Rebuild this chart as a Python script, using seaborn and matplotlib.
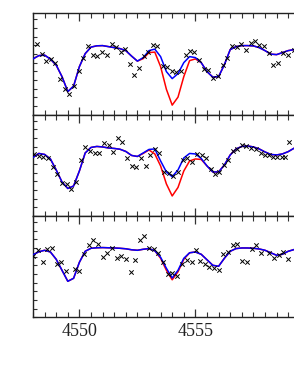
import numpy as np
import pandas as pd
import matplotlib
matplotlib.use("Agg")
import matplotlib.pyplot as plt
from matplotlib.ticker import MultipleLocator, FixedLocator, NullFormatter, FixedFormatter
import seaborn as sns

# wavelength grid of the model curves (Angstrom)
wave_model = np.arange(4548.0, 4560.001, 0.25)

# ---- panel 1 ----
p1_blue = [0.867, 0.90, 0.905, 0.865, 0.805, 0.69, 0.54, 0.595, 0.79, 0.92,
           0.985, 0.998, 1.00, 0.99, 0.98, 0.97, 0.95, 0.895, 0.845, 0.88,
           0.95, 0.965, 0.89, 0.74, 0.67, 0.72, 0.83, 0.89, 0.88, 0.83,
           0.74, 0.685, 0.69, 0.81, 0.96, 0.99, 1.00, 1.00, 0.997, 0.98,
           0.95, 0.915, 0.91, 0.93, 0.95, 0.96, 0.96, 0.95, 0.94]
p1_red = [0.867, 0.90, 0.905, 0.865, 0.805, 0.69, 0.54, 0.595, 0.79, 0.92,
          0.985, 0.998, 1.00, 0.99, 0.98, 0.97, 0.95, 0.895, 0.845, 0.87,
          0.93, 0.935, 0.79, 0.563, 0.405, 0.485, 0.69, 0.85, 0.867, 0.83,
          0.74, 0.685, 0.69, 0.81, 0.96, 0.99, 1.00, 1.00, 0.997, 0.98,
          0.95, 0.915, 0.91, 0.93, 0.95, 0.96, 0.96, 0.95, 0.94]
p1_obs_w = [4548.16, 4548.375, 4548.56, 4548.76, 4548.95, 4549.16, 4549.38, 4549.55,
            4549.77, 4549.97, 4550.17, 4550.37, 4550.57, 4550.75, 4550.96, 4551.18,
            4551.39, 4551.58, 4551.78, 4551.98, 4552.18, 4552.37, 4552.57, 4552.78,
            4552.97, 4553.19, 4553.36, 4553.59, 4553.76, 4553.98, 4554.16, 4554.37,
            4554.58, 4554.77, 4554.95, 4555.17, 4555.38, 4555.56, 4555.77, 4555.96,
            4556.18, 4556.37, 4556.59, 4556.78, 4556.97, 4557.18, 4557.38, 4557.57,
            4557.75, 4557.96, 4558.17, 4558.36, 4558.55, 4558.79, 4558.98, 4559.25]
p1_obs_f = [1.017, 0.92, 0.847, 0.87, 0.827, 0.67, 0.567, 0.517,
            0.60, 0.743, 0.88, 1.00, 0.907, 0.90, 0.933, 0.903,
            1.02, 0.987, 0.937, 0.963, 0.82, 0.707, 0.78, 0.893,
            0.937, 1.003, 0.993, 0.793, 0.783, 0.743, 0.733, 0.75,
            0.91, 0.95, 0.937, 0.86, 0.77, 0.753, 0.677, 0.693,
            0.81, 0.877, 0.993, 0.987, 1.02, 0.96, 1.027, 1.043,
            1.01, 0.993, 0.927, 0.81, 0.827, 0.927, 0.91, 0.96]

# ---- panel 2 ----
p2_blue = [0.895, 0.935, 0.925, 0.88, 0.77, 0.65, 0.585, 0.61, 0.76, 0.94,
           0.995, 1.005, 1.00, 0.99, 0.985, 0.977, 0.955, 0.915, 0.905, 0.94,
           0.975, 0.98, 0.86, 0.75, 0.703, 0.77, 0.89, 0.935, 0.93, 0.885,
           0.81, 0.75, 0.75, 0.82, 0.92, 0.98, 1.005, 1.01, 1.00, 0.98,
           0.95, 0.925, 0.92, 0.93, 0.953, 0.987, 1.00, 1.00, 0.99]
p2_red = [0.895, 0.935, 0.925, 0.88, 0.77, 0.65, 0.585, 0.61, 0.76, 0.94,
          0.995, 1.005, 1.00, 0.99, 0.985, 0.977, 0.955, 0.915, 0.905, 0.935,
          0.97, 0.93, 0.81, 0.63, 0.51, 0.595, 0.76, 0.86, 0.88, 0.875,
          0.81, 0.75, 0.75, 0.82, 0.92, 0.98, 1.005, 1.01, 1.00, 0.98,
          0.95, 0.925, 0.92, 0.93, 0.953, 0.987, 1.00, 1.00, 0.99]
p2_obs_w = [4548.06, 4548.26, 4548.44, 4548.66, 4548.85, 4549.05, 4549.25, 4549.45,
            4549.64, 4549.85, 4550.06, 4550.25, 4550.46, 4550.67, 4550.86, 4551.06,
            4551.26, 4551.46, 4551.65, 4551.85, 4552.04, 4552.25, 4552.44, 4552.66,
            4552.86, 4553.04, 4553.26, 4553.44, 4553.66, 4553.86, 4554.05, 4554.25,
            4554.45, 4554.65, 4554.84, 4555.06, 4555.27, 4555.46, 4555.66, 4555.84,
            4556.03, 4556.23, 4556.42, 4556.63, 4556.81, 4557.0, 4557.18, 4557.38,
            4557.61, 4557.81, 4558.0, 4558.19, 4558.36, 4558.53, 4558.72, 4558.86,
            4559.05]
p2_obs_f = [0.927, 0.913, 0.90, 0.893, 0.797, 0.727, 0.637, 0.63,
            0.583, 0.653, 0.87, 0.997, 0.963, 0.937, 0.937, 1.037,
            1.023, 0.95, 1.087, 1.047, 0.893, 0.81, 0.797, 0.887,
            0.81, 0.92, 0.977, 0.943, 0.753, 0.737, 0.71, 0.75,
            0.87, 0.887, 0.853, 0.927, 0.92, 0.887, 0.777, 0.727,
            0.753, 0.82, 0.87, 0.963, 0.977, 1.02, 1.01, 0.993,
            0.977, 0.937, 0.92, 0.92, 0.897, 0.897, 0.903, 0.903,
            1.053]

# ---- panel 3 ----
p3_blue = [0.935, 0.965, 0.98, 0.963, 0.89, 0.78, 0.67, 0.70, 0.86, 0.97,
           1.00, 1.005, 1.007, 1.005, 1.003, 1.00, 0.995, 0.985, 0.98, 0.99,
           0.997, 0.975, 0.91, 0.80, 0.703, 0.78, 0.90, 0.955, 0.963, 0.94,
           0.885, 0.83, 0.82, 0.90, 0.97, 0.997, 1.003, 1.003, 1.00, 0.993,
           0.98, 0.955, 0.93, 0.94, 0.97, 0.987, 0.995, 0.995, 0.99]
p3_red = [0.935, 0.965, 0.98, 0.963, 0.89, 0.78, 0.67, 0.70, 0.86, 0.97,
          1.00, 1.005, 1.007, 1.005, 1.003, 1.00, 0.995, 0.985, 0.98, 0.99,
          0.997, 0.975, 0.90, 0.78, 0.685, 0.765, 0.89, 0.955, 0.963, 0.94,
          0.885, 0.83, 0.82, 0.90, 0.97, 0.997, 1.003, 1.003, 1.00, 0.993,
          0.98, 0.955, 0.93, 0.94, 0.97, 0.987, 0.995, 0.995, 0.99]
p3_obs_w = [4548.01, 4548.23, 4548.42, 4548.62, 4548.81, 4549.02, 4549.21, 4549.42,
            4549.81, 4550.0, 4550.21, 4550.41, 4550.6, 4550.79, 4551.0, 4551.2,
            4551.41, 4551.61, 4551.79, 4552.0, 4552.21, 4552.4, 4552.61, 4552.8,
            4553.01, 4553.22, 4553.4, 4553.62, 4553.83, 4554.0, 4554.19, 4554.41,
            4554.63, 4554.84, 4555.01, 4555.2, 4555.41, 4555.6, 4555.8, 4556.02,
            4556.2, 4556.41, 4556.61, 4556.81, 4557.0, 4557.21, 4557.43, 4557.61,
            4557.81, 4558.19, 4558.39, 4558.59, 4558.79, 4559.0]
p3_obs_f = [0.923, 0.987, 0.863, 0.99, 1.003, 0.847, 0.863, 0.773,
            0.797, 0.77, 0.947, 1.037, 1.087, 1.043, 0.913, 0.953,
            1.003, 0.907, 0.923, 0.893, 0.763, 0.887, 1.087, 1.123,
            1.003, 0.997, 0.953, 0.863, 0.747, 0.753, 0.72, 0.84,
            0.88, 0.863, 0.987, 0.873, 0.847, 0.813, 0.807, 0.78,
            0.94, 0.963, 1.037, 1.047, 0.87, 0.863, 0.997, 1.037,
            0.953, 0.953, 0.903, 0.93, 0.963, 0.897]

x_tick_labels = ["4550", "4555", "4560"]

panels = [
    (p1_blue, p1_red, p1_obs_w, p1_obs_f),
    (p2_blue, p2_red, p2_obs_w, p2_obs_f),
    (p3_blue, p3_red, p3_obs_w, p3_obs_f),
]

sns.set_style("ticks")
plt.rcParams["font.family"] = ["Liberation Serif", "DejaVu Serif"]

fig, axes = plt.subplots(3, 1, figsize=(2.94, 3.75), dpi=100, sharex=True)
fig.subplots_adjust(left=33 / 294, right=311.4 / 294, top=1 - 13.3 / 375,
                    bottom=1 - 317.3 / 375, hspace=0)

ylo, yhi = 0.31, 1.323
for i, (ax, (blue, red, ow, of)) in enumerate(zip(axes, panels)):
    dfm = pd.DataFrame({"w": wave_model, "blue": blue, "red": red})
    dfo = pd.DataFrame({"w": ow, "f": of})
    sns.lineplot(data=dfm, x="w", y="red", ax=ax, color="#ff0000", lw=1.1,
                 sort=False, estimator=None, zorder=2)
    sns.lineplot(data=dfm, x="w", y="blue", ax=ax, color="#0000ff", lw=1.1,
                 sort=False, estimator=None, zorder=3)
    sns.scatterplot(data=dfo, x="w", y="f", ax=ax, marker="x", color="black",
                    s=10, linewidth=0.7, zorder=4)
    ax.set_xlim(4548, 4560)
    ax.set_ylim(ylo, yhi)
    ax.set_xlabel("")
    ax.set_ylabel("")
    for sp in ax.spines.values():
        sp.set_visible(True)
        sp.set_linewidth(1.0)
        sp.set_color("#222222")
    ax.yaxis.set_major_locator(FixedLocator(list(np.arange(ylo, yhi, 0.0867))))
    ax.yaxis.set_major_formatter(NullFormatter())
    ax.tick_params(axis="y", which="both", direction="in", length=3, width=0.8,
                   left=True, right=True, color="#333333")
    if i < 2:
        ax.xaxis.set_major_locator(MultipleLocator(2))
    else:
        ax.xaxis.set_major_locator(FixedLocator([4550, 4555, 4560]))
    ax.xaxis.set_minor_locator(MultipleLocator(0.5))
    ax.tick_params(axis="x", which="major", direction="in", length=6, width=0.9,
                   top=True, bottom=True, color="#333333")
    ax.tick_params(axis="x", which="minor", direction="in", length=3.5, width=0.8,
                   top=True, bottom=True, color="#333333")
    if i < 2:
        ax.tick_params(axis="x", labelbottom=False)

axes[2].xaxis.set_major_formatter(FixedFormatter(x_tick_labels))
axes[2].tick_params(axis="x", which="major", labelsize=13, pad=4, labelcolor="#222222")

fig.savefig("out.png", dpi=100)
